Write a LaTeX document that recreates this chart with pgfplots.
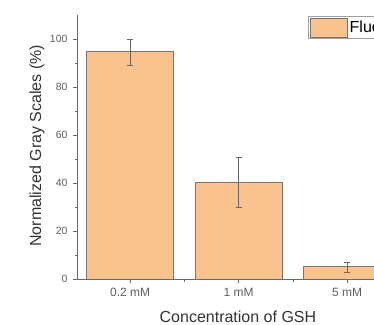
\documentclass[border=0pt]{standalone}
\usepackage{fontspec}
\setmainfont{Liberation Sans}
\usepackage{pgfplots}
\pgfplotsset{compat=1.18}
\definecolor{barfill}{RGB}{249,194,143}
\definecolor{barline}{RGB}{125,115,105}
\definecolor{axisgray}{RGB}{105,105,105}
\definecolor{ticklab}{RGB}{95,95,95}
\definecolor{errcol}{RGB}{110,100,95}
\begin{document}
\begin{tikzpicture}
\useasboundingbox (0,0) rectangle (374bp,325bp);
\clip (0,0) rectangle (374bp,325bp);
\begin{axis}[
  at={(77bp,46bp)}, anchor=south west,
  scale only axis, width=335.3bp, height=264bp,
  xmin=-0.49, xmax=2.6, ymin=0, ymax=110,
  axis x line*=bottom, axis y line*=left,
  axis line style={-, axisgray, line width=0.8bp},
  tick align=outside, major tick length=4bp, minor tick length=2.5bp,
  tick style={axisgray, line width=0.7bp},
  xtick={0,1,2}, xticklabels={0.2 mM, 1 mM, 5 mM},
  minor xtick={0.5,1.5,2.5},
  ytick={0,20,40,60,80,100}, minor ytick={10,30,50,70,90},
  /pgf/number format/assume math mode=true,
  xticklabel style={font=\fontsize{12bp}{14bp}\selectfont, text=ticklab, yshift=-2bp},
  yticklabel style={font=\fontsize{10.5bp}{12bp}\selectfont, text=ticklab, xshift=-2bp},
  xlabel={Concentration of GSH},
  ylabel={Normalized Gray Scales (\%)},
  every axis x label/.style={at={(axis description cs:0.480,-0.144)}, anchor=center, font=\fontsize{16bp}{18bp}\selectfont, text=black!80},
  every axis y label/.style={at={(axis description cs:-0.1193,0.505)}, anchor=center, rotate=90, font=\fontsize{16bp}{18bp}\selectfont, text=black!80},
  ybar, bar width=0.8,
  legend style={at={(axis cs:1.639,109.6)}, anchor=north west, draw=gray!75, line width=1.4bp, inner sep=1bp, font=\fontsize{16bp}{18bp}\selectfont, fill=white},
  legend image code/.code={\draw[#1, line width=1bp] (0bp,-9.5bp) rectangle (37bp,9.5bp);},
]
\addplot[fill=barfill, draw=barline, line width=1bp,
  error bars/.cd, y dir=both, y explicit,
  error bar style={errcol, line width=0.8bp},
  error mark options={rotate=90, mark size=3bp, errcol, line width=0.8bp}]
  coordinates {(0,94.6) +- (0,5.4) (1,40.4) +- (0,10.4) (2,5.0) +- (0,2.1)};
\addlegendentry{Fluorescence}
\end{axis}
\end{tikzpicture}
\end{document}
